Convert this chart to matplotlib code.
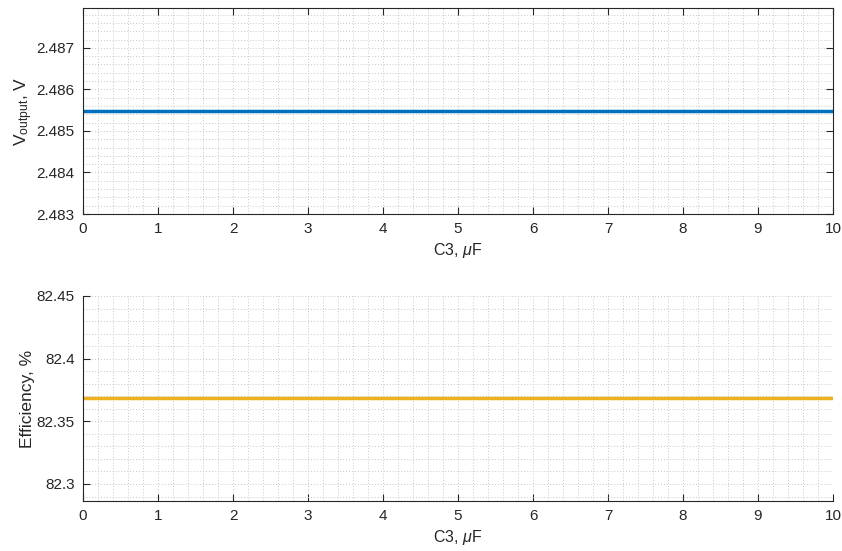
import matplotlib.pyplot as plt
from matplotlib.ticker import MultipleLocator

plt.rcParams['font.family'] = ['Liberation Sans', 'DejaVu Sans']
plt.rcParams['mathtext.fontset'] = 'custom'
plt.rcParams['mathtext.rm'] = 'Liberation Sans'
plt.rcParams['mathtext.it'] = 'Liberation Sans:italic'

c3_uf = [0, 1, 2, 3, 4, 5, 6, 7, 8, 9, 10]
v_output = [2.48548, 2.48548, 2.48548, 2.48548, 2.48548, 2.48548,
            2.48548, 2.48548, 2.48548, 2.48548, 2.48548]
efficiency = [82.3683, 82.3683, 82.3683, 82.3683, 82.3683, 82.3683,
              82.3683, 82.3683, 82.3683, 82.3683, 82.3683]

axis_col = '#262626'

fig = plt.figure(figsize=(8.42, 5.51), dpi=100)
ax1 = fig.add_axes([0.0986, 0.6116, 0.8907, 0.3739])
ax2 = fig.add_axes([0.0986, 0.0907, 0.8907, 0.3721])


def style(ax, box):
    ax.set_xlim(0, 10)
    ax.xaxis.set_major_locator(MultipleLocator(1))
    ax.xaxis.set_minor_locator(MultipleLocator(0.2))
    ax.grid(True, which='both', linestyle=(0, (1, 2)), color='#c8c8c8', linewidth=0.7)
    ax.set_axisbelow(True)
    ax.tick_params(which='major', direction='in', length=5, width=0.8,
                   colors=axis_col, labelsize=11, top=box, right=box, pad=6)
    ax.tick_params(which='minor', length=0)
    for side, sp in ax.spines.items():
        sp.set_color(axis_col)
        sp.set_linewidth(0.8)
    if not box:
        ax.spines['top'].set_visible(False)
        ax.spines['right'].set_visible(False)
    ax.set_xlabel(r'C3, $\mathit{\mu}$F', fontsize=11.5, color=axis_col, labelpad=3)


ax1.plot(c3_uf, v_output, color='#0072BD', linewidth=2.5)
ax1.set_ylim(2.483, 2.48796)
ax1.yaxis.set_major_locator(MultipleLocator(0.001))
ax1.yaxis.set_minor_locator(MultipleLocator(0.0002))
style(ax1, True)
ax1.set_ylabel(r'V$_\mathregular{output}$, V', fontsize=12.5, color=axis_col, labelpad=1)

ax2.plot(c3_uf, efficiency, color='#EDB120', linewidth=2.5)
ax2.set_ylim(82.2864, 82.45)
ax2.set_yticks([82.3, 82.35, 82.4, 82.45])
ax2.set_yticklabels(['82.3', '82.35', '82.4', '82.45'])
ax2.yaxis.set_minor_locator(MultipleLocator(0.01))
style(ax2, False)
ax2.set_ylabel('Efficiency, %', fontsize=12.5, color=axis_col, labelpad=1)

fig.savefig('out.png', dpi=100)
